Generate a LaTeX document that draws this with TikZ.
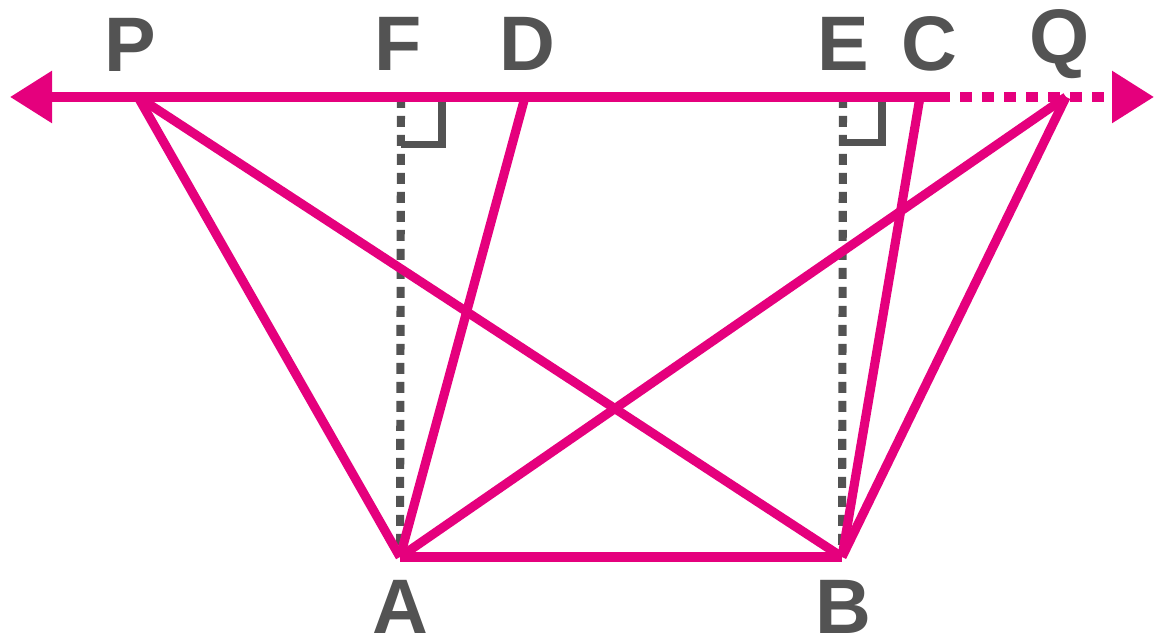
\documentclass[tikz,border=0pt]{standalone}
\usepackage{fontspec}
\setmainfont{Liberation Sans}
\usepackage{tikz}
\usetikzlibrary{arrows.meta, calc}
\usepackage{xcolor}
\definecolor{geomag}{HTML}{E5007D}
\definecolor{geogray}{HTML}{535353}

\begin{document}
\begin{tikzpicture}[
    seg/.style={line width=2.6pt, geomag},
    linetip/.tip={Triangle[length=4.2mm, width=5mm]},
    perp/.style={line width=2.3pt, geogray, dash pattern=on 0.11cm off 0.08cm},
    rmark/.style={line width=2pt, geogray},
    ptlabel/.style={font=\fontsize{22}{26}\selectfont\bfseries, text=geogray,
                    inner sep=0pt},
  ]
    \useasboundingbox (0,0) rectangle (11.55,6.36);

    % points on the line and the base
    \coordinate (L) at (0.10, 5.39);
    \coordinate (P) at (1.38, 5.39);
    \coordinate (F) at (4.01, 5.39);
    \coordinate (D) at (5.25, 5.39);
    \coordinate (E) at (8.43, 5.39);
    \coordinate (C) at (9.20, 5.39);
    \coordinate (S) at (9.50, 5.39);
    \coordinate (T) at (9.60, 5.39);
    \coordinate (Q) at (10.66, 5.39);
    \coordinate (R) at (11.54, 5.39);
    \coordinate (A) at (4.00, 0.79);
    \coordinate (B) at (8.42, 0.79);

    % heights from A and B
    \draw[perp] (F) -- (A);
    \draw[perp] (E) -- (B);
    \draw[rmark] ([xshift=0.41cm]F) |- ([yshift=-0.48cm]F);
    \draw[rmark] ([xshift=0.39cm]E) |- ([yshift=-0.46cm]E);

    % the line through P and Q
    \draw[seg, linetip-] (L) -- (S);
    \draw[seg, -linetip, dash pattern=on 0.12cm off 0.10cm] (T) -- (R);

    \draw[seg] (A) -- (B);
    \draw[seg] (P) -- (A);
    \draw[seg] (P) -- (B);
    \draw[seg] (D) -- (A);
    \draw[seg] (Q) -- (A);
    \draw[seg] (C) -- (B);
    \draw[seg] (Q) -- (B);

    \node[ptlabel] (lP) at (1.30, 5.91) {P};
    \node[ptlabel] (lF) at (3.98, 5.92) {F};
    \node[ptlabel] (lD) at (5.27, 5.92) {D};
    \node[ptlabel] (lE) at (8.43, 5.92) {E};
    \node[ptlabel] (lC) at (9.29, 5.92) {C};
    \node[ptlabel] (lQ) at (10.60, 5.92) {Q};
    \node[ptlabel] (lA) at (4.00, 0.29) {A};
    \node[ptlabel] (lB) at (8.43, 0.29) {B};
  \end{tikzpicture}
\end{document}
